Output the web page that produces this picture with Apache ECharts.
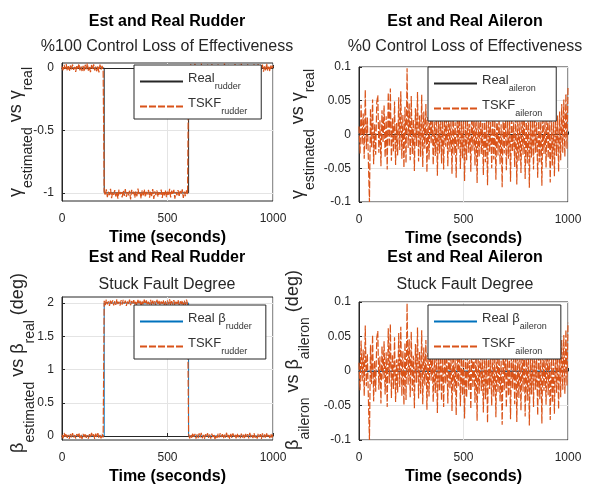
<!DOCTYPE html>
<html>
<head>
<meta charset="utf-8">
<script src="https://cdn.jsdelivr.net/npm/echarts@6.0.0/dist/echarts.min.js"></script>
<style>
  html, body { margin: 0; padding: 0; background: #fff; }
  #myChart { width: 590px; height: 486px; }
</style>
</head>
<body>
<div id="myChart"></div>
<script>
  // real signals (step changes), time / value pairs
  let realStepTime = [0, 200, 200, 600, 600, 1000];
  let realGammaRudder = [0, 0, -1, -1, 0, 0];
  let realBetaRudder = [0, 0, 2, 2, 0, 0];
  let realAileronTime = [0, 1000];
  let realAileron = [0, 0];

  // TSKF estimates, one sample every 5 s (0..1000)
  let tskfGammaRudder = [
    0.012,-0.018,0.025,-0.008,0.031,-0.022,0.015,-0.027,0.020,-0.011,
    0.028,-0.015,0.009,-0.031,0.022,-0.006,0.034,-0.019,0.013,-0.024,
    0.018,-0.029,0.026,-0.010,0.037,-0.021,0.008,-0.033,0.024,-0.014,
    0.030,-0.020,0.011,-0.026,0.019,-0.035,0.027,-0.012,0.016,-0.023,
    -0.985,-1.021,-0.972,-1.034,-0.991,-1.018,-0.968,-1.042,-0.996,-1.015,
    -0.978,-1.029,-0.989,-1.047,-0.974,-1.012,-0.993,-1.036,-0.981,-1.024,
    -0.970,-1.031,-0.995,-1.019,-0.983,-1.052,-0.976,-1.008,-0.990,-1.038,
    -0.987,-1.027,-0.965,-1.016,-0.998,-1.044,-0.979,-1.021,-0.972,-1.033,
    -0.992,-1.011,-0.976,-1.039,-0.984,-1.025,-0.969,-1.048,-0.988,-1.017,
    -0.981,-1.030,-0.994,-1.013,-0.973,-1.041,-0.986,-1.020,-0.978,-1.035,
    -0.990,-1.023,-0.967,-1.037,-0.982,-1.014,-0.975,-1.046,-0.993,-1.019,
    -0.977,-1.032,-0.985,-1.010,-0.971,-1.040,-0.989,-1.026,-0.980,-1.012,
    0.021,-0.016,0.029,-0.009,0.017,-0.025,0.033,-0.013,0.010,-0.028,
    0.024,-0.011,0.036,-0.020,0.014,-0.031,0.022,-0.007,0.027,-0.018,
    0.015,-0.026,0.032,-0.012,0.020,-0.034,0.009,-0.021,0.030,-0.016,
    0.026,-0.010,0.018,-0.029,0.035,-0.017,0.012,-0.024,0.028,-0.013,
    0.019,-0.032,0.023,-0.008,0.031,-0.022,0.016,-0.030,0.025,-0.011,
    0.033,-0.019,0.010,-0.027,0.021,-0.014,0.029,-0.023,0.013,-0.035,
    0.022,-0.012,0.030,-0.025,0.017,-0.009,0.034,-0.020,0.024,-0.015,
    0.027,-0.030,0.014,-0.018,0.036,-0.022,0.011,-0.026,0.020,-0.010,
    0.018
  ];
  let tskfBetaRudder = [
    0.021,-0.034,0.045,-0.012,0.038,-0.026,0.017,-0.041,0.030,-0.019,
    0.043,-0.022,0.014,-0.037,0.029,-0.010,0.048,-0.031,0.024,-0.045,
    0.033,-0.016,0.040,-0.028,0.011,-0.039,0.027,-0.021,0.046,-0.013,
    0.025,-0.044,0.036,-0.018,0.042,-0.030,0.015,-0.035,0.031,-0.024,
    2.032,1.968,2.051,1.979,2.024,1.956,2.045,1.987,2.038,1.963,
    2.027,1.972,2.055,1.983,2.019,1.960,2.041,1.975,2.048,1.990,
    2.035,1.958,2.022,1.977,2.050,1.966,2.029,1.985,2.043,1.970,
    2.018,1.962,2.046,1.981,2.033,1.955,2.025,1.973,2.052,1.986,
    2.040,1.969,2.021,1.978,2.047,1.961,2.036,1.982,2.026,1.957,
    2.049,1.974,2.031,1.965,2.023,1.988,2.044,1.971,2.030,1.959,
    2.037,1.980,2.053,1.964,2.028,1.976,2.042,1.960,2.020,1.984,
    2.045,1.967,2.026,1.979,2.039,1.958,2.034,1.972,2.050,1.981,
    0.028,-0.037,0.019,-0.025,0.044,-0.014,0.032,-0.040,0.023,-0.030,
    0.039,-0.020,0.047,-0.033,0.016,-0.043,0.026,-0.012,0.041,-0.027,
    0.022,-0.038,0.035,-0.017,0.030,-0.046,0.013,-0.029,0.037,-0.022,
    0.044,-0.015,0.027,-0.036,0.020,-0.024,0.049,-0.032,0.018,-0.041,
    0.031,-0.028,0.040,-0.011,0.025,-0.035,0.038,-0.019,0.014,-0.033,
    0.036,-0.023,0.021,-0.042,0.033,-0.016,0.029,-0.037,0.046,-0.020,
    0.017,-0.031,0.043,-0.026,0.012,-0.039,0.034,-0.014,0.027,-0.044,
    0.038,-0.018,0.024,-0.034,0.041,-0.021,0.015,-0.030,0.032,-0.025,
    0.026
  ];
  // aileron estimate (same trace in both aileron plots)
  let tskfAileron = [
    0.012,-0.028,0.044,-0.015,0.031,-0.036,0.066,-0.022,0.025,-0.041,
    -0.100,0.038,-0.019,0.052,-0.044,0.015,-0.030,0.048,0.058,-0.027,
    0.021,-0.047,0.036,-0.012,0.043,-0.034,0.027,-0.052,0.062,-0.018,
    0.068,-0.039,0.024,-0.026,0.049,-0.045,0.017,-0.031,0.055,-0.023,
    0.064,-0.036,0.029,-0.049,0.041,-0.042,0.098,-0.020,0.046,-0.038,
    0.057,-0.029,0.022,-0.054,0.039,-0.017,0.063,-0.040,0.028,-0.033,
    0.059,-0.048,0.034,-0.021,0.045,-0.056,0.026,-0.037,0.042,-0.014,
    0.031,-0.045,0.019,-0.032,0.038,-0.061,0.024,-0.028,0.035,-0.043,
    0.027,-0.052,0.033,-0.018,0.029,-0.047,0.040,-0.026,0.022,-0.058,
    0.036,-0.030,0.018,-0.064,0.031,-0.022,0.043,-0.051,0.025,-0.035,
    0.030,-0.069,0.021,-0.038,0.034,-0.027,0.016,-0.055,0.039,-0.024,
    0.028,-0.046,0.035,-0.072,0.020,-0.033,0.041,-0.029,0.017,-0.060,
    0.032,-0.041,0.024,-0.075,0.037,-0.026,0.019,-0.050,0.030,-0.037,
    0.022,-0.067,0.038,-0.031,0.026,-0.044,0.015,-0.078,0.033,-0.028,
    0.040,-0.053,0.021,-0.036,0.029,-0.070,0.034,-0.025,0.018,-0.048,
    0.036,-0.074,0.027,-0.039,0.022,-0.057,0.031,-0.030,0.044,-0.066,
    0.025,-0.043,0.037,-0.079,0.020,-0.034,0.028,-0.052,0.039,-0.027,
    0.018,-0.064,0.033,-0.041,0.026,-0.076,0.035,-0.029,0.021,-0.049,
    0.042,-0.035,0.024,-0.071,0.030,-0.046,0.019,-0.062,0.037,-0.032,
    0.028,-0.055,0.034,-0.038,0.045,-0.027,0.052,-0.033,0.060,-0.021,
    0.070
  ];

  let xTicks = [0, 500, 1000];
  let yTicksGammaRudder = [-1, -0.5, 0];
  let yTicksBetaRudder = [0, 0.5, 1, 1.5, 2];
  let yTicksAileron = [-0.1, -0.05, 0, 0.05, 0.1];

  let sampleTime = [];
  for (let i = 0; i < tskfAileron.length; i++) sampleTime.push(i * 5);

  function pairs (t, v) {
    return t.map((x, i) => [x, v[i]]);
  }

  let font = 'Liberation Sans, Arial, Helvetica, sans-serif';
  let axisColor = '#262626';
  let colReal = '#262626';
  let colBlue = '#0072BD';
  let colTskf = '#D95319';

  function xAxis (idx) {
    return {
      type: 'value', gridIndex: idx, min: 0, max: 1000, interval: 500,
      name: 'Time (seconds)', nameLocation: 'middle', nameGap: 29,
      nameTextStyle: {fontFamily: font, fontSize: 16, fontWeight: 'bold', color: '#000'},
      axisLine: {lineStyle: {color: axisColor}},
      axisTick: {inside: true, length: 3, customValues: xTicks, lineStyle: {color: axisColor}},
      axisLabel: {margin: 12, fontFamily: font, fontSize: 12, color: axisColor, customValues: xTicks,
        formatter: v => String(v)},
      splitLine: {show: true, lineStyle: {color: '#e4e4e4'}}
    };
  }

  function yAxis (idx, min, max, ticks) {
    return {
      type: 'value', gridIndex: idx, min: min, max: max,
      axisLine: {show: true, lineStyle: {color: axisColor}},
      axisTick: {show: true, inside: true, length: 3, customValues: ticks, lineStyle: {color: axisColor}},
      axisLabel: {margin: 8, fontFamily: font, fontSize: 12, color: axisColor, customValues: ticks},
      splitLine: {show: true, lineStyle: {color: '#e4e4e4'}}
    };
  }

  let legendNames = {
    realGR: '{m|Real}{s|rudder}',
    tskfGR: '{m|TSKF}{s|rudder}',
    realGA: '{m|Real}{s|aileron}',
    tskfGA: '{m|TSKF}{s|aileron}',
    realBR: '{m|Real β}{s|rudder}',
    tskfBR: '{m|TSKF}{s|rudder}',
    realBA: '{m|Real β}{s|aileron}',
    tskfBA: '{m|TSKF}{s|aileron}'
  };

  function legend (left, top, names) {
    return {
      data: names, orient: 'vertical', left: left, top: top,
      itemWidth: 43, itemHeight: 14, itemGap: 6,
      padding: [7, 14, 3, 5],
      borderColor: axisColor, borderWidth: 1, backgroundColor: '#fff',
      selectedMode: false,
      itemStyle: {opacity: 0},
      formatter: name => legendNames[name],
      textStyle: {
        rich: {
          m: {fontFamily: font, fontSize: 13, color: '#333', lineHeight: 14, verticalAlign: 'top'},
          s: {fontFamily: font, fontSize: 9, color: '#333', lineHeight: 19, verticalAlign: 'bottom'}
        }
      }
    };
  }

  function line (name, idx, data, color, dashed) {
    return {
      name: name, type: 'line', xAxisIndex: idx, yAxisIndex: idx,
      data: data, showSymbol: false, symbol: 'none',
      lineStyle: {color: color, width: dashed ? 1.2 : 1, type: dashed ? [7, 2] : 'solid'},
      itemStyle: {color: color}
    };
  }

  function text (x, y, str, bold) {
    return {
      type: 'text', x: x, y: y,
      style: {
        text: str, fill: bold ? '#000' : axisColor, align: 'center', verticalAlign: 'middle',
        font: (bold ? 'bold ' : '') + '16px ' + font
      }
    };
  }

  // rotated y axis label with subscripts
  function yLabel (x, y, str) {
    return {
      type: 'text', x: x, y: y, rotation: Math.PI / 2,
      style: {
        text: str, align: 'center', verticalAlign: 'middle', fill: axisColor,
        rich: {
          g: {fontFamily: font, fontSize: 18, fill: axisColor, lineHeight: 20, verticalAlign: 'top'},
          s: {fontFamily: font, fontSize: 14, fill: axisColor, lineHeight: 28, verticalAlign: 'bottom'}
        }
      }
    };
  }

  let option = {
    animation: false,
    backgroundColor: '#fff',
    grid: [
      {left: 62, top: 63, width: 211, height: 138, show: true, borderColor: axisColor, borderWidth: 1},
      {left: 359, top: 67, width: 209, height: 135, show: true, borderColor: axisColor, borderWidth: 1},
      {left: 62, top: 297, width: 211, height: 144, show: true, borderColor: axisColor, borderWidth: 1},
      {left: 359, top: 302, width: 209, height: 139, show: true, borderColor: axisColor, borderWidth: 1}
    ],
    xAxis: [xAxis(0), xAxis(1), xAxis(2), xAxis(3)],
    yAxis: [
      yAxis(0, -1.065, 0.04, yTicksGammaRudder),
      yAxis(1, -0.1, 0.1, yTicksAileron),
      yAxis(2, -0.06, 2.09, yTicksBetaRudder),
      yAxis(3, -0.1, 0.1, yTicksAileron)
    ],
    legend: [
      legend(134, 65, ['realGR', 'tskfGR']),
      legend(428, 67, ['realGA', 'tskfGA']),
      legend(134, 305, ['realBR', 'tskfBR']),
      legend(428, 305, ['realBA', 'tskfBA'])
    ],
    graphic: [
      text(167, 22, 'Est and Real Rudder', true),
      text(167, 47, '%100 Control Loss of Effectiveness', false),
      text(465, 22, 'Est and Real Aileron', true),
      text(465, 47, '%0 Control Loss of Effectiveness', false),
      text(167, 258, 'Est and Real Rudder', true),
      text(167, 285, 'Stuck Fault Degree', false),
      text(465, 258, 'Est and Real Aileron', true),
      text(465, 285, 'Stuck Fault Degree', false),
      yLabel(21, 132, '{g|γ}{s|estimated}{g| vs γ}{s|real}'),
      yLabel(303, 134, '{g|γ}{s|estimated}{g| vs γ}{s|real}'),
      yLabel(23, 363, '{g|β}{s|estimated}{g| vs β}{s|real}{g| (deg)}'),
      yLabel(298, 360, '{g|β}{s|aileron}{g| vs β}{s|aileron}{g| (deg)}')
    ],
    series: [
      line('realGR', 0, pairs(realStepTime, realGammaRudder), colReal, false),
      line('tskfGR', 0, pairs(sampleTime, tskfGammaRudder), colTskf, true),
      line('realGA', 1, pairs(realAileronTime, realAileron), colReal, false),
      line('tskfGA', 1, pairs(sampleTime, tskfAileron), colTskf, true),
      line('realBR', 2, pairs(realStepTime, realBetaRudder), colBlue, false),
      line('tskfBR', 2, pairs(sampleTime, tskfBetaRudder), colTskf, true),
      line('realBA', 3, pairs(realAileronTime, realAileron), colBlue, false),
      line('tskfBA', 3, pairs(sampleTime, tskfAileron), colTskf, true)
    ]
  };

  let myChart = echarts.init(document.getElementById('myChart'));
  myChart.setOption(option);
</script>
</body>
</html>
